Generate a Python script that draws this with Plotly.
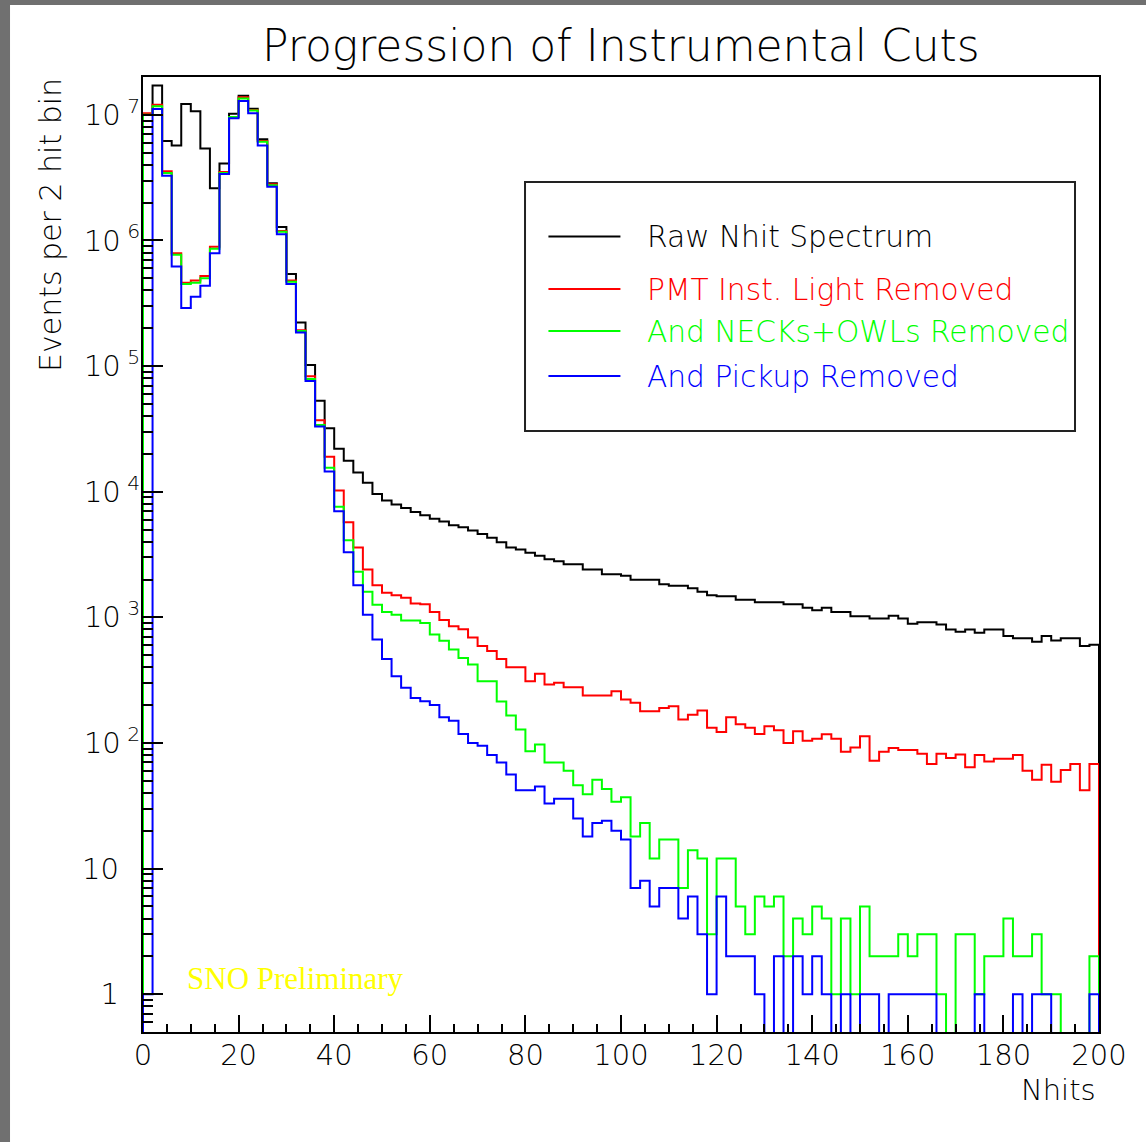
import numpy as np
import plotly.graph_objects as go

# Nhit histogram: 100 bins of width 2 from 0 to 200
bin_edges = list(range(0, 202, 2))

raw_nhit = [
    1.0e7, 1.71e7, 6.2e6, 5.7e6, 1.22e7, 1.07e7, 5.4e6, 2.6e6, 4.1e6, 1.02e7,
    1.42e7, 1.12e7, 6.4e6, 2.85e6, 1.28e6, 5.4e5, 2.22e5, 1.02e5, 5.3e4, 3.2e4,
    2.2e4, 1.76e4, 1.42e4, 1.18e4, 9.6e3, 8.5e3, 7.9e3, 7.4e3, 6.9e3, 6.5e3,
    6.1e3, 5.8e3, 5.4e3, 5.2e3, 4.9e3, 4.6e3, 4.3e3, 3.95e3, 3.6e3, 3.47e3,
    3.27e3, 3.09e3, 2.9e3, 2.8e3, 2.64e3, 2.64e3, 2.4e3, 2.4e3, 2.2e3, 2.2e3,
    2.14e3, 1.99e3, 1.99e3, 1.99e3, 1.83e3, 1.78e3, 1.78e3, 1.7e3, 1.6e3, 1.5e3,
    1.47e3, 1.47e3, 1.38e3, 1.38e3, 1.32e3, 1.32e3, 1.32e3, 1.27e3, 1.27e3, 1.19e3,
    1.14e3, 1.19e3, 1.1e3, 1.1e3, 1.02e3, 1.02e3, 980, 980, 1.03e3, 980,
    890, 915, 915, 875, 800, 767, 800, 753, 800, 800,
    710, 680, 680, 640, 710, 655, 680, 680, 590, 605,
]

pmt_inst_removed = [
    1.03e7, 1.2e7, 3.55e6, 7.9e5, 4.6e5, 4.8e5, 5.2e5, 8.9e5, 3.5e6, 9.6e6,
    1.38e7, 1.09e7, 6.2e6, 2.8e6, 1.19e6, 4.8e5, 1.93e5, 8.3e4, 3.7e4, 1.9e4,
    1.02e4, 5.7e3, 3.6e3, 2.4e3, 1.8e3, 1.57e3, 1.5e3, 1.43e3, 1.29e3, 1.27e3,
    1.1e3, 950, 850, 805, 690, 590, 540, 465, 401, 401,
    310, 355, 292, 301, 278, 278, 239, 239, 239, 258,
    222, 209, 179, 179, 190, 196, 154, 168, 181, 132,
    122, 160, 141, 132, 118, 136, 126, 100, 124, 104,
    108, 117, 108, 85, 92, 113, 72, 85, 91, 88,
    88, 82, 68, 82, 76, 81, 64, 80, 71, 75,
    75, 80, 60, 51, 67, 49, 61, 68, 42, 68,
]

necks_owls_removed = [
    1.0e7, 1.17e7, 3.45e6, 7.7e5, 4.5e5, 4.6e5, 5.0e5, 8.6e5, 3.45e6, 9.6e6,
    1.35e7, 1.08e7, 6.1e6, 2.75e6, 1.17e6, 4.7e5, 1.9e5, 7.9e4, 3.4e4, 1.55e4,
    7.6e3, 4.1e3, 2.3e3, 1.6e3, 1.26e3, 1.1e3, 1.05e3, 945, 945, 900,
    731, 650, 555, 475, 421, 310, 310, 214, 165, 128,
    86, 97, 70, 70, 60, 46, 39, 51, 43, 34,
    37, 18, 23, 12, 17, 17, 7, 14, 12, 3,
    12, 12, 5, 3, 6, 5, 6, 2, 4, 3,
    5, 4, 1, 4, 1, 5, 2, 2, 2, 3,
    2, 3, 3, 1, 0, 3, 3, 1, 2, 2,
    4, 2, 2, 3, 1, 1, 0, 0, 0, 2,
]

pickup_removed = [
    1, 1.11e7, 3.28e6, 6.2e5, 2.9e5, 3.56e5, 4.36e5, 7.9e5, 3.38e6, 9.4e6,
    1.29e7, 1.03e7, 5.7e6, 2.68e6, 1.12e6, 4.5e5, 1.85e5, 7.6e4, 3.3e4, 1.45e4,
    7.0e3, 3.3e3, 1.8e3, 1.05e3, 665, 465, 340, 275, 228, 215,
    200, 160, 150, 118, 100, 95, 80, 70, 56, 42,
    42, 45, 33, 36, 36, 25, 18, 23, 24, 20,
    17, 7, 8, 5, 7, 7, 4, 6, 3, 1,
    6, 2, 2, 2, 1, 0, 2, 0, 2, 1,
    2, 1, 0, 1, 0, 1, 1, 0, 1, 1,
    1, 1, 1, 0, 0, 0, 0, 1, 0, 0,
    0, 1, 0, 1, 1, 0, 0, 0, 0, 1,
]

series_names = [
    "Raw Nhit Spectrum",
    "PMT Inst. Light Removed",
    "And NECKs+OWLs Removed",
    "And Pickup Removed",
]
series_colors = ["#000000", "#ff0000", "#00ff00", "#0000ff"]
series_values = [raw_nhit, pmt_inst_removed, necks_owls_removed, pickup_removed]

y_tick_vals = [1, 10, 1e2, 1e3, 1e4, 1e5, 1e6, 1e7]
y_tick_text = ["1\u2007\u200a", "10\u2007\u200a", "10<sup> 2</sup>", "10<sup> 3</sup>",
               "10<sup> 4</sup>", "10<sup> 5</sup>", "10<sup> 6</sup>", "10<sup> 7</sup>"]
x_tick_vals = list(range(0, 201, 20))

Y_MIN, Y_MAX = 0.5, 2.0e7
FLOOR = 0.05  # empty bins drop below the axis and get clipped


def step_path(values):
    """Outline of a histogram: rise at the low edge, fall at the high edge."""
    vals = [v if v > 0 else FLOOR for v in values]
    xs = [bin_edges[0]] + bin_edges[:-1] + [bin_edges[-1], bin_edges[-1]]
    ys = [FLOOR] + vals + [vals[-1], FLOOR]
    return xs, ys


fig = go.Figure()
for name, color, values in zip(series_names, series_colors, series_values):
    xs, ys = step_path(values)
    fig.add_trace(go.Scatter(
        x=xs, y=ys, mode="lines", name=name,
        line=dict(color=color, width=2, shape="hv"),
        showlegend=False, hoverinfo="skip",
    ))

FONT = "DejaVu Sans"

# minor ticks for the log axis
minor_y = []
for dec in range(-1, 8):
    for m in range(2, 10):
        v = m * 10.0 ** dec
        if Y_MIN <= v <= Y_MAX:
            minor_y.append(v)

fig.update_layout(
    width=1146, height=1142,
    margin=dict(l=143, r=47, t=77, b=110),
    paper_bgcolor="white", plot_bgcolor="white",
    font=dict(family=FONT, color="black", size=28),
    xaxis=dict(
        range=[0, 200], showgrid=False, zeroline=False,
        showline=True, linecolor="black", linewidth=2, mirror=True,
        ticks="inside", ticklen=17, tickwidth=1.5, tickcolor="black",
        tickvals=x_tick_vals, ticktext=[str(v) for v in x_tick_vals],
        tickfont=dict(family=FONT, size=29, weight=300),
        ticklabelstandoff=-4,
        minor=dict(ticks="inside", ticklen=8, tickwidth=1.5, tickcolor="black", dtick=5),
    ),
    yaxis=dict(
        type="log", range=[np.log10(Y_MIN), np.log10(Y_MAX)],
        showgrid=False, zeroline=False,
        showline=True, linecolor="black", linewidth=2, mirror=True,
        ticks="inside", ticklen=20, tickwidth=1.5, tickcolor="black",
        tickvals=y_tick_vals, ticktext=y_tick_text,
        tickfont=dict(family=FONT, size=29, weight=300),
        ticklabelstandoff=-5,
        minor=dict(ticks="inside", ticklen=10, tickwidth=1.5, tickcolor="black",
                   tickvals=minor_y),
    ),
)

# screen border strips
fig.add_shape(type="rect", xref="paper", yref="paper", x0=-0.2, x1=-0.1391,
              y0=-0.2, y1=1.2, fillcolor="#707070", line=dict(width=0), layer="above")
fig.add_shape(type="rect", xref="paper", yref="paper", x0=-0.2, x1=1.2,
              y0=1.0754, y1=1.2, fillcolor="#707070", line=dict(width=0), layer="above")

# title and axis titles
fig.add_annotation(text="Progression of Instrumental Cuts", xref="paper", yref="paper",
                   x=0.5, y=1.0325, xanchor="center", yanchor="middle", showarrow=False,
                   font=dict(family=FONT, size=44, color="black", weight=200))
fig.add_annotation(text="Events per 2 hit bin", xref="paper", yref="paper",
                   x=-0.0973, y=0.845, xanchor="center", yanchor="middle", textangle=-90,
                   showarrow=False, font=dict(family=FONT, size=30, color="black", weight=300))
fig.add_annotation(text="Nhits", xref="paper", yref="paper",
                   x=0.999, y=-0.0607, xanchor="right", yanchor="middle", showarrow=False,
                   font=dict(family=FONT, size=29, color="black", weight=300))
fig.add_annotation(text="SNO Preliminary", xref="paper", yref="paper",
                   x=0.0439, y=0.0565, xanchor="left", yanchor="middle", showarrow=False,
                   font=dict(family="Liberation Serif", size=31, color="#ffff00"))

# legend box
fig.add_shape(type="rect", xref="paper", yref="paper", x0=0.3996, x1=0.9749,
              y0=0.6293, y1=0.8901, line=dict(color="#222222", width=2),
              fillcolor="white", layer="above")
legend_rows = [0.8330, 0.7780, 0.7340, 0.6869]
for name, color, yrow in zip(series_names, series_colors, legend_rows):
    fig.add_shape(type="line", xref="paper", yref="paper", x0=0.4241, x1=0.4994,
                  y0=yrow, y1=yrow, line=dict(color=color, width=2), layer="above")
    fig.add_annotation(text=name, xref="paper", yref="paper", x=0.5251, y=yrow,
                       xanchor="left", yanchor="middle", showarrow=False,
                       font=dict(family=FONT, size=29.7, color=color, weight=300))

fig.write_html("out.html")
